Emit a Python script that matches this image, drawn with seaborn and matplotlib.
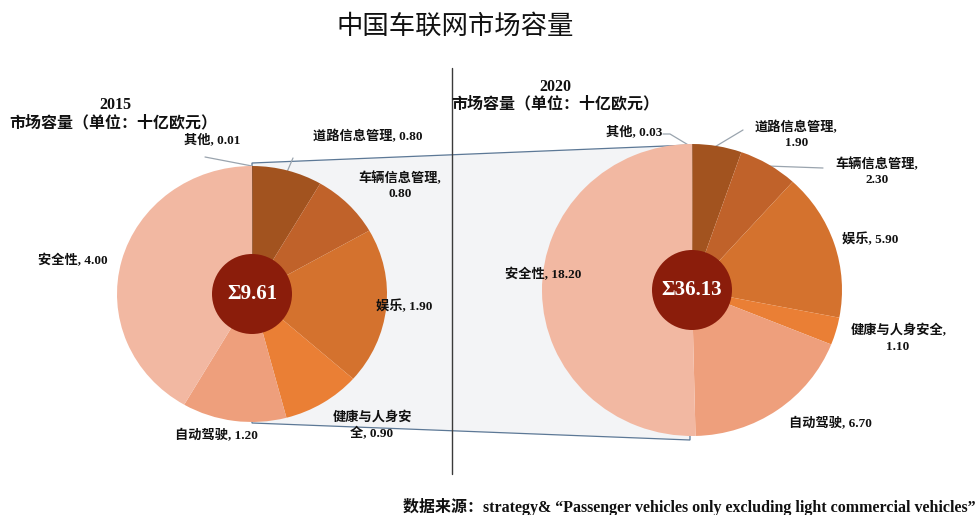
import matplotlib
matplotlib.use("Agg")
import matplotlib.pyplot as plt
from matplotlib.patches import Polygon, Ellipse
import seaborn as sns

# ---------------- data ----------------
categories = ["其他", "道路信息管理", "车辆信息管理", "娱乐", "健康与人身安全", "自动驾驶", "安全性"]
values_2015 = [0.01, 0.80, 0.80, 1.90, 0.90, 1.20, 4.00]
values_2020 = [0.03, 1.90, 2.30, 5.90, 1.10, 6.70, 18.20]
years = ["2015", "2020"]
title = "中国车联网市场容量"
unit_label = "市场容量（单位：十亿欧元）"
source_text = "数据来源：strategy& “Passenger vehicles only excluding light commercial vehicles”"

sns.set_theme(style="white")
plt.rcParams["font.family"] = ["Liberation Serif", "Noto Sans CJK SC", "DejaVu Sans"]

colors = ["#8E4418", "#A2531F", "#C0622A", "#D4722E", "#EA7F35", "#EE9F7C", "#F2B8A2"]

W, H = 978, 515
fig = plt.figure(figsize=(W / 100, H / 100), dpi=100)
fig.patch.set_facecolor("white")


def pixel_axes(z):
    a = fig.add_axes([0, 0, 1, 1], zorder=z)
    a.set_xlim(0, W)
    a.set_ylim(H, 0)
    a.axis("off")
    a.patch.set_alpha(0)
    return a


# background axes in pixel coordinates
bg = pixel_axes(1)
top = pixel_axes(10)

# connecting trapezoid
trap = Polygon([(252, 163), (690, 145), (690, 440), (252, 423)], closed=True,
               facecolor="#F3F4F6", edgecolor="#5C7896", linewidth=0.9, zorder=1)
bg.add_patch(trap)
# vertical divider
bg.plot([452, 452], [68, 474], color="#3A3A3A", lw=1.0, zorder=2)

# leader lines
leader = dict(color="#9AA4AE", lw=0.9, zorder=2)
bg.plot([205, 252], [157, 166], **leader)
bg.plot([287, 293], [172, 158], **leader)
bg.plot([663, 670, 690], [134, 134, 146], **leader)
bg.plot([713, 743], [148, 130], **leader)
bg.plot([767, 823], [166, 168], **leader)


def draw_pie(vals, cx, cy, rx, ry, total_txt):
    ax = fig.add_axes([(cx - rx) / W, 1 - (cy + ry) / H, 2 * rx / W, 2 * ry / H], zorder=3)
    ax.pie(vals, colors=colors, startangle=90, counterclock=False, radius=1,
           wedgeprops=dict(linewidth=0), normalize=True)
    ax.set_xlim(-1, 1)
    ax.set_ylim(-1, 1)
    ax.set_aspect("auto")
    ax.axis("off")
    rc = 40
    ax.add_patch(Ellipse((0, 0), 2 * rc / rx, 2 * rc / ry, facecolor="#8B1D0B",
                         edgecolor="none", zorder=5))
    ax.text(0, 0, total_txt, ha="center", va="center", color="white",
            fontsize=15, fontweight="bold", zorder=6,
            family=["Liberation Serif", "DejaVu Serif"])
    return ax


draw_pie(values_2015, 252, 294, 135, 128, "Σ%.2f" % sum(values_2015))
draw_pie(values_2020, 692, 290, 150, 146, "Σ%.2f" % sum(values_2020))

# title
top.text(455, 26, title, ha="center", va="center", fontsize=19,
         family=["Noto Sans CJK SC"], color="#111111")

lab = dict(fontsize=9.5, fontweight="bold", color="#111111", zorder=10)
ttl = dict(fontsize=11.5, fontweight="bold", color="#111111", zorder=10)

# year headings
top.text(115, 105, years[0], ha="center", va="center", **ttl)
top.text(113, 123, unit_label, ha="center", va="center", **ttl)
top.text(555, 87, years[1], ha="center", va="center", **ttl)
top.text(555, 104, unit_label, ha="center", va="center", **ttl)


def fmt(cat, v):
    return f"{cat}, {v:.2f}"


v1 = values_2015
v2 = values_2020
c = categories
# 2015 labels
top.text(240, 140, fmt(c[0], v1[0]), ha="right", va="center", **lab)
top.text(313, 136, fmt(c[1], v1[1]), ha="left", va="center", **lab)
top.text(400, 178, c[2] + ",", ha="center", va="center", **lab)
top.text(400, 194, f"{v1[2]:.2f}", ha="center", va="center", **lab)
top.text(376, 306, fmt(c[3], v1[3]), ha="left", va="center", **lab)
top.text(372, 417, c[4][:-1], ha="center", va="center", **lab)
top.text(372, 434, f"{c[4][-1]}, {v1[4]:.2f}", ha="center", va="center", **lab)
top.text(216, 436, fmt(c[5], v1[5]), ha="center", va="center", **lab)
top.text(73, 260, fmt(c[6], v1[6]), ha="center", va="center", **lab)

# 2020 labels
top.text(662, 132, fmt(c[0], v2[0]), ha="right", va="center", **lab)
top.text(796, 127, c[1] + ",", ha="center", va="center", **lab)
top.text(797, 143, f"{v2[1]:.2f}", ha="center", va="center", **lab)
top.text(877, 164, c[2] + ",", ha="center", va="center", **lab)
top.text(877, 180, f"{v2[2]:.2f}", ha="center", va="center", **lab)
top.text(842, 239, fmt(c[3], v2[3]), ha="left", va="center", **lab)
top.text(899, 331, c[4] + ",", ha="center", va="center", **lab)
top.text(898, 347, f"{v2[4]:.2f}", ha="center", va="center", **lab)
top.text(830, 424, fmt(c[5], v2[5]), ha="center", va="center", **lab)
top.text(543, 275, fmt(c[6], v2[6]), ha="center", va="center", **lab)

# source
top.text(976, 507, source_text, ha="right", va="center", fontsize=11.5,
         fontweight="bold", color="#111111")

fig.savefig("out.png", dpi=100, facecolor="white")
